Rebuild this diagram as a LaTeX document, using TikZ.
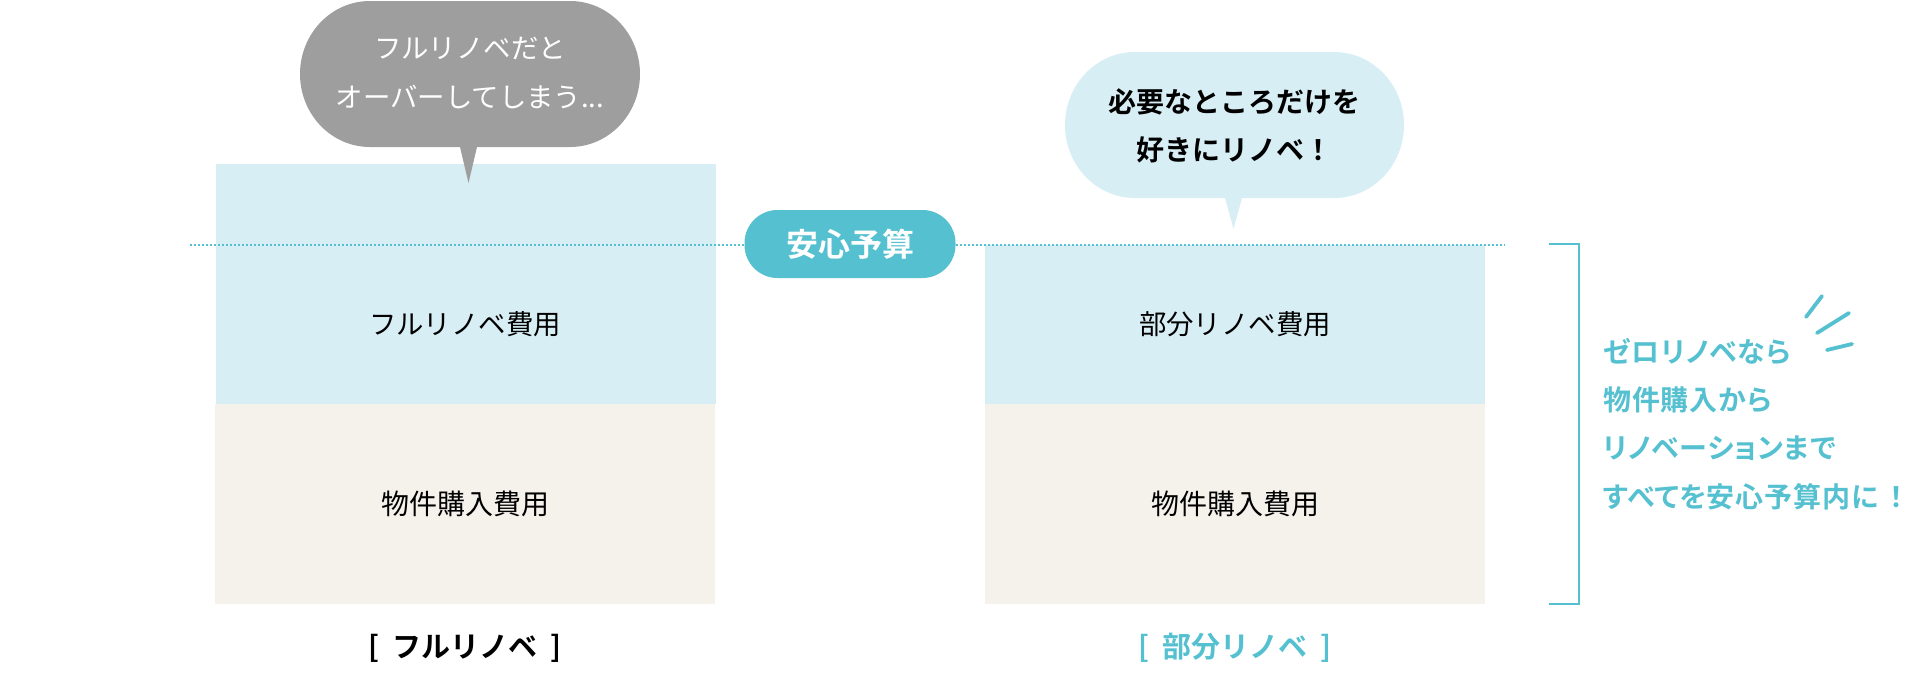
\documentclass[tikz,border=0pt]{standalone}
\usepackage{fontspec}
\setmainfont{Noto Sans CJK JP}[BoldFont={Noto Sans CJK JP Bold}]
\newfontfamily\notefont{Noto Sans CJK JP Bold}[RawFeature=+palt,LetterSpace=3]
\definecolor{teal}{HTML}{55C0D0}
\definecolor{paleblue}{HTML}{D7EEF4}
\definecolor{beige}{HTML}{F5F2EC}
\definecolor{bubblegray}{HTML}{9E9E9E}
\newcommand{\speechbubble}[8]{% x0,y0,x1,y1,tailL,tailR,tailDepth,colour
  \fill[#8] (#1+70,#2) -- (#3-70,#2)
    .. controls (#3-31,#2) and (#3,#2+33) .. (#3,#2+73)
    .. controls (#3,#2+113) and (#3-31,#4) .. (#3-70,#4)
    -- (#6,#4) -- ({(#5+#6)/2},#4+#7) -- (#5,#4) -- (#1+70,#4)
    .. controls (#1+31,#4) and (#1,#2+113) .. (#1,#2+73)
    .. controls (#1,#2+33) and (#1+31,#2) .. (#1+70,#2) -- cycle;
}
\tikzset{
  x=1pt,y=-1pt,
  block/.style={anchor=north west,inner sep=0pt,outer sep=0pt,minimum width=#1},
  cost/.style={font=\fontsize{28}{30}\selectfont,text=black,inner sep=0pt},
  renocost/.style={font=\fontsize{27.4}{30}\selectfont,text=black,inner sep=0pt},
  talk/.style={font=\fontsize{27.4}{48.5}\selectfont,align=center,inner sep=0pt},
  caption/.style={font=\bfseries\fontsize{29}{32}\selectfont,inner sep=0pt},
  teal line/.style={draw=teal,line width=2pt},
  ray/.style={draw=teal,line width=3.8pt,line cap=round},
}
\begin{document}
\begin{tikzpicture}
\useasboundingbox (0,0) rectangle (1914,672);
% blocks
\node[block=499.5pt,fill=paleblue,minimum height=240pt] (fullreno) at (216,164) {};
\node[block=500pt,fill=beige,minimum height=200pt] (fullbuy) at (215,404) {};
\node[block=500pt,fill=paleblue,minimum height=159pt] (partreno) at (985,245) {};
\node[block=500pt,fill=beige,minimum height=200pt] (partbuy) at (985,404) {};
\node[renocost] (fullrenotext) at (465,324) {フルリノベ費用};
\node[cost] (fullbuytext) at (465,504) {物件購入費用};
\node[renocost] (partrenotext) at (1235,324) {部分リノベ費用};
\node[cost] (partbuytext) at (1235,504) {物件購入費用};
% budget line
\coordinate (lineL) at (190,245);
\coordinate (lineR) at (1505,245);
\node[fill=teal,text=white,rounded corners=33pt,minimum width=211pt,minimum height=68pt,inner sep=0pt,font=\bfseries\fontsize{32}{36}\selectfont] (budget) at (850,244) {安心予算};
\draw[teal,line width=2pt,dash pattern=on 2pt off 2pt] (lineL) -- (budget.west |- lineL);
\draw[teal,line width=2pt,dash pattern=on 2pt off 2pt] (budget.east |- lineR) -- (lineR);
% bubbles
\speechbubble{300}{1}{640}{147}{460}{477}{36}{bubblegray}
\node[talk,text=white] (graytalk) at (470,73) {フルリノベだと\\オーバーしてしまう...};
\speechbubble{1065}{52}{1404}{198}{1225}{1242}{31}{paleblue}
\node[talk,text=black,font=\bfseries\fontsize{28}{48}\selectfont] (bluetalk) at (1234,126) {必要なところだけを\\好きにリノベ！};
% bracket
\coordinate (brA) at (1549,244);
\coordinate (brB) at (1579,244);
\coordinate (brC) at (1579,604);
\coordinate (brD) at (1549,604);
\draw[teal line] (brA) -- (brB) -- (brC) -- (brD);
% side note
\node[anchor=west,align=left,inner sep=0pt,text=teal,font=\notefont\fontsize{28}{48.3}\selectfont] (note) at (1603,424) {ゼロリノベなら\\物件購入から\\リノベーションまで\\すべてを安心予算内に\hspace{11pt}！};
\coordinate (r1a) at (1806,317); \coordinate (r1b) at (1822,296);
\coordinate (r2a) at (1817,333); \coordinate (r2b) at (1849,313);
\coordinate (r3a) at (1827,350); \coordinate (r3b) at (1852,344);
\draw[ray] (r1a) -- (r1b);
\draw[ray] (r2a) -- (r2b);
\draw[ray] (r3a) -- (r3b);
% captions
\node[caption,text=black] (fullcap) at (465,648) {[\hspace{13pt}フルリノベ\hspace{13pt}]};
\node[caption,text=teal] (partcap) at (1235,648) {[\hspace{13pt}部分リノベ\hspace{13pt}]};
\end{tikzpicture}
\end{document}
